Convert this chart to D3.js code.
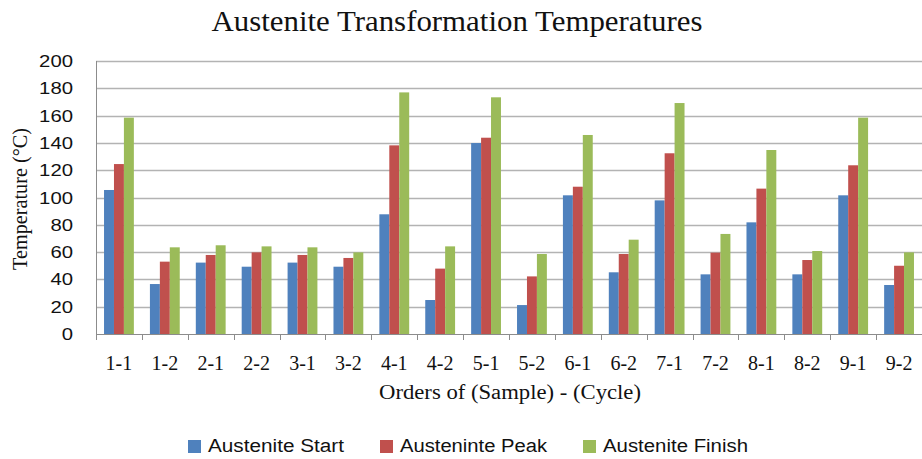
<!DOCTYPE html>
<html>
<head>
<meta charset="utf-8">
<script src="https://cdn.jsdelivr.net/npm/d3@7"></script>
<style>
  body { margin: 0; background: #fff; }
  svg { display: block; }
</style>
</head>
<body>
<div id="frame"></div>
<script>
// data
let categories = ["1-1", "1-2", "2-1", "2-2", "3-1", "3-2", "4-1", "4-2", "5-1",
                  "5-2", "6-1", "6-2", "7-1", "7-2", "8-1", "8-2", "9-1", "9-2"];
let seriesNames = ["Austenite Start", "Austeninte Peak", "Austenite Finish"];
let startVals  = [105.5, 36.6, 52.3, 49.3, 52.3, 49.3, 87.7, 24.9, 139.9, 21.2, 101.6, 45.2, 97.9, 43.7, 81.8, 43.7, 101.6, 35.9];
let peakVals   = [124.5, 53.0, 57.9, 59.8, 57.9, 55.7, 138.2, 47.9, 143.8, 42.2, 107.9, 58.6, 132.4, 59.6, 106.5, 54.2, 123.6, 50.0];
let finishVals = [158.5, 63.5, 65.0, 64.2, 63.5, 59.8, 177.0, 64.2, 173.4, 58.6, 145.8, 69.1, 169.2, 73.3, 134.8, 60.8, 158.5, 59.8];
let yTicks = [0, 20, 40, 60, 80, 100, 120, 140, 160, 180, 200];
let colors = ["#4F81BD", "#C0504D", "#9BBB59"];

let W = 922, H = 459;
let margin = { top: 61, right: 0, bottom: 125, left: 96 },
    width = W - margin.left - margin.right,
    height = H - margin.top - margin.bottom;

let svg = d3.select('#frame')
    .append('svg')
    .attr('width', W)
    .attr('height', H);

let g = svg.append('g')
    .attr('transform', 'translate(' + margin.left + ',' + margin.top + ')');

let pIn = 0.35, pOut = 0.175;
let x0 = d3.scaleBand()
    .domain(categories)
    .range([0, width])
    .paddingInner(pIn)
    .paddingOuter(pOut);

let x1 = d3.scaleBand()
    .domain(seriesNames)
    .range([0, x0.bandwidth()]);

let y = d3.scaleLinear()
    .domain([0, 200])
    .range([height, 0]);

// gridlines
g.append('g')
    .selectAll('line')
    .data(yTicks.filter(t => t > 0))
    .enter()
    .append('line')
    .attr('x1', 0)
    .attr('x2', width)
    .attr('y1', d => Math.round(y(d)) + 0.5)
    .attr('y2', d => Math.round(y(d)) + 0.5)
    .style('stroke', '#b3b3b3')
    .style('stroke-width', 1.5);

// bars
let table = categories.map((c, i) => ({
    cat: c,
    vals: [startVals[i], peakVals[i], finishVals[i]]
}));

let groups = g.append('g')
    .selectAll('g')
    .data(table)
    .enter()
    .append('g')
    .attr('transform', d => 'translate(' + x0(d.cat) + ',0)');

groups.selectAll('rect')
    .data(d => d.vals.map((v, k) => ({ key: seriesNames[k], v: v, k: k })))
    .enter()
    .append('rect')
    .attr('x', d => x1(d.key))
    .attr('y', d => y(d.v))
    .attr('width', x1.bandwidth())
    .attr('height', d => height - y(d.v))
    .style('fill', d => colors[d.k]);

// axes lines
g.append('line')
    .attr('x1', 0.5).attr('x2', 0.5)
    .attr('y1', 0).attr('y2', height)
    .style('stroke', '#8c8c8c');

g.append('line')
    .attr('x1', 0).attr('x2', width)
    .attr('y1', height + 0.5).attr('y2', height + 0.5)
    .style('stroke', '#8c8c8c');

// category tick marks at boundaries
let step = x0.step();
g.append('g')
    .selectAll('line')
    .data(categories)
    .enter()
    .append('line')
    .attr('x1', d => Math.round(x0(d) - step * pOut) + 0.5)
    .attr('x2', d => Math.round(x0(d) - step * pOut) + 0.5)
    .attr('y1', height)
    .attr('y2', height + 6)
    .style('stroke', '#8c8c8c');

// y tick labels (stretched a bit like the original)
g.append('g')
    .selectAll('text')
    .data(yTicks)
    .enter()
    .append('text')
    .attr('x', -23)
    .attr('y', d => y(d) + 6)
    .attr('textLength', d => String(d).length * 11.3)
    .attr('lengthAdjust', 'spacingAndGlyphs')
    .style('text-anchor', 'end')
    .style('font-family', 'Liberation Sans, sans-serif')
    .style('font-size', '17px')
    .style('fill', '#111')
    .text(d => d);

// x tick labels
g.append('g')
    .selectAll('text')
    .data(categories)
    .enter()
    .append('text')
    .attr('x', d => x0(d) + x0.bandwidth() / 2)
    .attr('y', height + 36)
    .style('text-anchor', 'middle')
    .style('font-family', 'Liberation Serif, serif')
    .style('font-size', '20px')
    .style('fill', '#111')
    .text(d => d);

// titles
svg.append('text')
    .attr('x', 457)
    .attr('y', 31)
    .attr('textLength', 491)
    .attr('lengthAdjust', 'spacingAndGlyphs')
    .style('text-anchor', 'middle')
    .style('font-family', 'Liberation Serif, serif')
    .style('font-size', '29px')
    .style('fill', '#111')
    .text('Austenite Transformation Temperatures');

svg.append('text')
    .attr('transform', 'translate(27,199) rotate(-90)')
    .attr('textLength', 142)
    .attr('lengthAdjust', 'spacingAndGlyphs')
    .style('text-anchor', 'middle')
    .style('font-family', 'Liberation Serif, serif')
    .style('font-size', '20px')
    .style('fill', '#111')
    .text('Temperature (°C)');

svg.append('text')
    .attr('x', 510)
    .attr('y', 399)
    .attr('textLength', 262)
    .attr('lengthAdjust', 'spacingAndGlyphs')
    .style('text-anchor', 'middle')
    .style('font-family', 'Liberation Serif, serif')
    .style('font-size', '20px')
    .style('fill', '#111')
    .text('Orders of (Sample) - (Cycle)');

// legend
let legendX = [188, 380, 583];
let legendLen = [136, 147, 145];
let legend = svg.append('g')
    .selectAll('g')
    .data(seriesNames)
    .enter()
    .append('g')
    .attr('transform', (d, i) => 'translate(' + legendX[i] + ',440)');

legend.append('rect')
    .attr('width', 13)
    .attr('height', 13)
    .style('fill', (d, i) => colors[i]);

legend.append('text')
    .attr('x', 20)
    .attr('y', 12)
    .attr('textLength', (d, i) => legendLen[i])
    .attr('lengthAdjust', 'spacingAndGlyphs')
    .style('font-family', 'Liberation Sans, sans-serif')
    .style('font-size', '18px')
    .style('fill', '#111')
    .text(d => d);
</script>
</body>
</html>
